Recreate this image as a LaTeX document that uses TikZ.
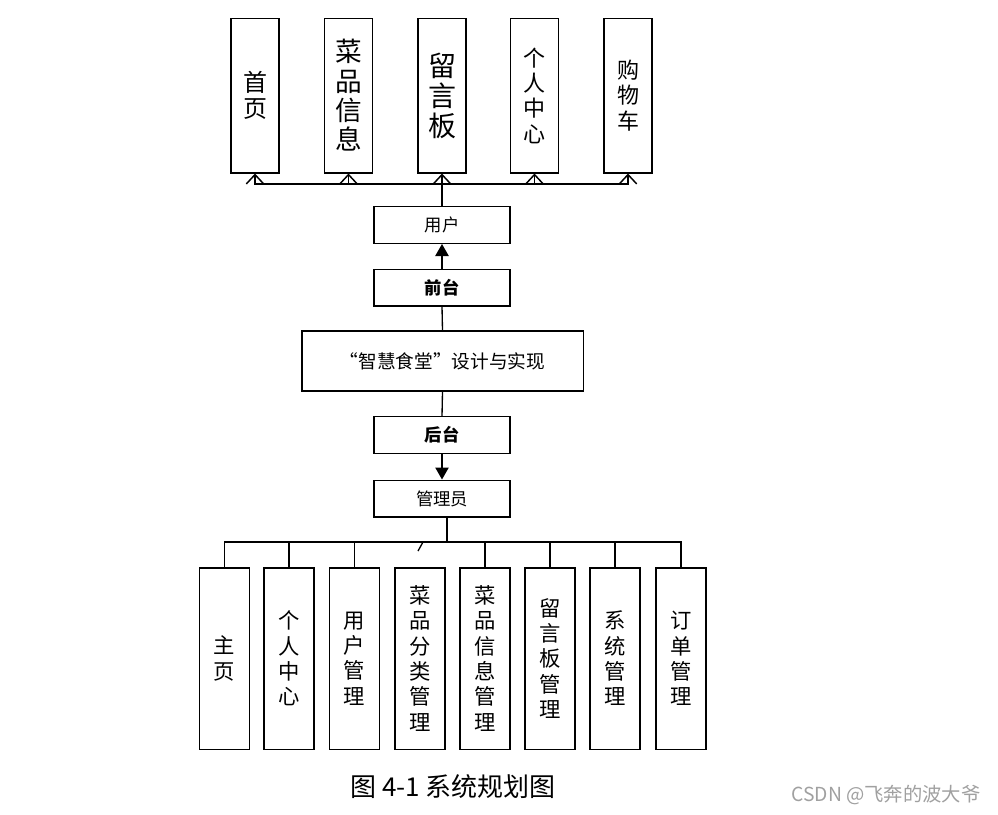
\documentclass[tikz,border=0pt]{standalone}
\usepackage{fontspec}
\setmainfont{Noto Sans CJK SC}
\usetikzlibrary{arrows.meta,positioning}
\definecolor{markGray}{RGB}{160,160,160}

\begin{document}
\begin{tikzpicture}[x=0.75pt, y=-0.75pt,
    topcol/.style={rectangle, draw, line width=1pt, inner sep=0pt,
                   minimum width=36pt, minimum height=116pt, align=center},
    botcol/.style={rectangle, draw, line width=1pt, inner sep=0pt,
                   minimum width=37.5pt, minimum height=136pt, align=center,
                   font=\fontsize{16}{19}\selectfont},
    bar/.style={rectangle, draw, line width=1pt, inner sep=0pt,
                minimum width=102pt, minimum height=27.5pt,
                font=\fontsize{13}{15}\selectfont},
    link/.style={line width=1pt},
    up/.style={line width=1pt, -{Straight Barb[length=7pt, width=13pt, line width=1.1pt]}},
    down/.style={line width=1pt, -{Triangle[length=9pt, width=10pt]}}
  ]
  \useasboundingbox (0,0) rectangle (998,814);

  % front end
  \node[topcol, font=\fontsize{18}{20}\selectfont]     (home)  at (255,95.5)   {首\\页};
  \node[topcol, font=\fontsize{20}{22}\selectfont]     (dish)  at (348.5,95.5) {菜\\品\\信\\息};
  \node[topcol, font=\fontsize{21}{22.5}\selectfont]   (board) at (442,95.5)   {留\\言\\板};
  \node[topcol, font=\fontsize{16.5}{19}\selectfont]   (mine)  at (534.5,95.5) {个\\人\\中\\心};
  \node[topcol, font=\fontsize{16.5}{19}\selectfont]   (cart)  at (628,95.5)   {购\\物\\车};

  \node[bar] (user)  at (442,225)   {用户};
  \node[bar, font=\fontsize{13}{15}\selectfont\bfseries] (front) at (442,287.5) {前台};
  \node[rectangle, draw, line width=1pt, minimum width=211pt, minimum height=45pt,
        font=\fontsize{14}{16}\selectfont] (sys) at (442.5,361) {“智慧食堂”设计与实现};
  \node[bar, font=\fontsize{13}{15}\selectfont\bfseries] (back)  at (442,435)   {后台};
  \node[bar] (admin) at (442,498.5) {管理员};

  % back end
  \node[botcol] (main)  at (224.5,658.5) {主\\页};
  \node[botcol] (me)    at (289,658.5)   {个\\人\\中\\心};
  \node[botcol] (umgr)  at (354.5,658.5) {用\\户\\管\\理};
  \node[botcol] (cmgr)  at (420,658.5)   {菜\\品\\分\\类\\管\\理};
  \node[botcol] (dmgr)  at (485,658.5)   {菜\\品\\信\\息\\管\\理};
  \node[botcol] (bmgr)  at (550,658.5)   {留\\言\\板\\管\\理};
  \node[botcol] (smgr)  at (615,658.5)   {系\\统\\管\\理};
  \node[botcol] (omgr)  at (681,658.5)   {订\\单\\管\\理};

  \coordinate (topbus) at (442,184);
  \coordinate (botbus) at (447,542);
  \coordinate (stubtop) at (423,542);
  \coordinate (stubend) at (418,551);

  \draw[link] (user.north) -- (topbus);
  \draw[up] (topbus) -| (home.south);
  \draw[up] (topbus) -| (dish.south);
  \draw[up] (topbus) -- (board.south);
  \draw[up] (topbus) -| (mine.south);
  \draw[up] (topbus) -| (cart.south);

  \draw[down] (front.north) -- (user.south);
  \draw[link] (front.south) -- (sys.north);
  \draw[link] (sys.south) -- (back.north);
  \draw[down] (back.south) -- (admin.north);

  \draw[link] (admin.south -| botbus) -- (botbus);
  \draw[link] (botbus) -| (main.north);
  \draw[link] (botbus) -| (me.north);
  \draw[link] (botbus) -| (umgr.north);
  \draw[link] (stubtop) -- (stubend);
  \draw[link] (botbus) -| (dmgr.north);
  \draw[link] (botbus) -| (bmgr.north);
  \draw[link] (botbus) -| (smgr.north);
  \draw[link] (botbus) -| (omgr.north);

  \node[font=\fontsize{19.5}{21}\selectfont] (caption) at (453,787) {图 4-1 系统规划图};
  \node[font=\fontsize{14.5}{16}\selectfont, text=markGray] (mark) at (886,795) {CSDN @飞奔的波大爷};
\end{tikzpicture}
\end{document}
